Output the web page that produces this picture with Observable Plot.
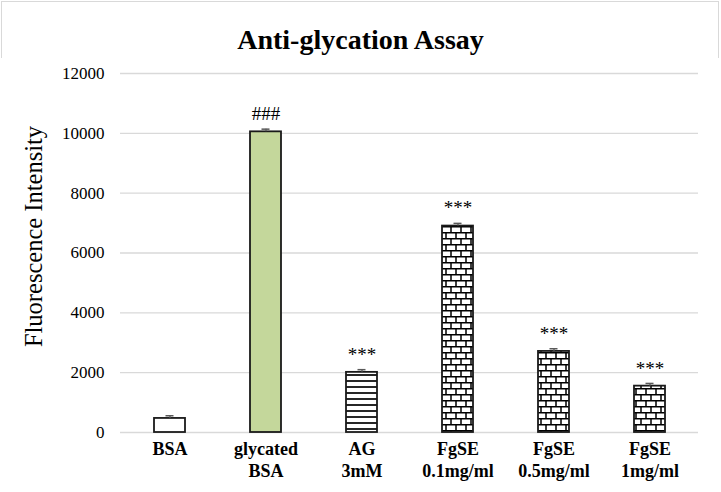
<!DOCTYPE html>
<html><head><meta charset="utf-8">
<script src="https://cdn.jsdelivr.net/npm/d3@7"></script>
<script src="https://cdn.jsdelivr.net/npm/@observablehq/plot@0.6"></script>
<style>
body{margin:0;background:#fff;}
#wrap{position:relative;width:721px;height:492px;overflow:hidden;background:#fff;font-family:"Liberation Serif","Times New Roman",serif;}
#frame{position:absolute;left:1px;top:1px;width:716px;height:486px;border:1.5px solid #d9d9d9;}
#title{position:absolute;left:0;top:26px;width:721px;text-align:center;font-weight:bold;font-size:28px;line-height:28px;color:#000;}
#chart{position:absolute;left:0;top:58px;}
</style></head>
<body>
<svg width="0" height="0" style="position:absolute"><defs>
<pattern id="hlines" patternUnits="userSpaceOnUse" width="8" height="6">
<rect width="8" height="6" fill="#fff"/>
<path d="M0 5H8" stroke="#000" stroke-width="1.7"/>
</pattern>
<pattern id="bricks" patternUnits="userSpaceOnUse" width="20" height="12">
<rect width="20" height="12" fill="#fff"/>
<path d="M0 0.75H20M0 6.75H20M1 0.75V6.75M11 0.75V6.75M6 6.75V12.75M16 6.75V12.75" stroke="#000" stroke-width="1.5"/>
</pattern>
</defs></svg>
<div id="wrap"><div id="frame"></div><div id="title">Anti-glycation Assay</div><div id="chart"></div></div>
<script>
const categories = ["BSA", "glycated BSA", "AG 3mM", "FgSE 0.1mg/ml", "FgSE 0.5mg/ml", "FgSE 1mg/ml"];
const values = [470, 10050, 2010, 6900, 2710, 1550];
const errors = [90, 90, 90, 90, 90, 90];
const significance = ["", "###", "***", "***", "***", "***"];
const yTicks = [0, 2000, 4000, 6000, 8000, 10000, 12000];
const yLabel = "Fluorescence Intensity";

const fills = {
  "BSA": "#ffffff",
  "glycated BSA": "#c4d79b",
  "AG 3mM": "url(#hlines)",
  "FgSE 0.1mg/ml": "url(#bricks)",
  "FgSE 0.5mg/ml": "url(#bricks)",
  "FgSE 1mg/ml": "url(#bricks)"
};

const data = categories.map((c, i) => ({cat: c, value: values[i], err: errors[i], top: values[i] + errors[i], sig: significance[i]}));

const chart = Plot.plot({
  width: 721, height: 434,
  marginTop: 15, marginBottom: 60, marginLeft: 120, marginRight: 23,
  style: {fontFamily: "'Liberation Serif','Times New Roman',serif", background: "#fff", color: "#000", overflow: "visible"},
  x: {domain: categories, paddingInner: 0.678, paddingOuter: 0.339, axis: null},
  y: {domain: [0, 12000], axis: null},
  color: {type: "identity"},
  marks: [
    Plot.gridY(yTicks, {stroke: "#d9d9d9", strokeOpacity: 1, strokeWidth: 1.3}),
    Plot.axisY(yTicks, {tickSize: 0, tickPadding: 16, fontSize: 17, label: null, tickFormat: d => String(d)}),
    Plot.axisX({tickSize: 0, tickPadding: 8, fontSize: 18, fontWeight: "bold", lineHeight: 1.17, label: null, tickFormat: d => d.replace(" ", "\n")}),
    Plot.barY(data, {x: "cat", y: "value", fill: d => fills[d.cat], stroke: "#1a1a1a", strokeWidth: 1.8}),
    Plot.ruleX(data, {x: "cat", y1: "value", y2: "top", stroke: "#595959", strokeWidth: 1.3}),
    Plot.tickY(data, {x: "cat", y: "top", stroke: "#595959", strokeWidth: 1.5, insetLeft: 11.5, insetRight: 11.5}),
    Plot.text(data, {x: "cat", y: "top", text: "sig", dy: -15, fontSize: 19, lineAnchor: "middle"}),
    Plot.text([yLabel], {frameAnchor: "left", textAnchor: "middle", lineAnchor: "middle", dx: -86, dy: -16.5, rotate: -90, fontSize: 24.5})
  ]
});
document.getElementById("chart").appendChild(chart);
</script>
</body></html>
